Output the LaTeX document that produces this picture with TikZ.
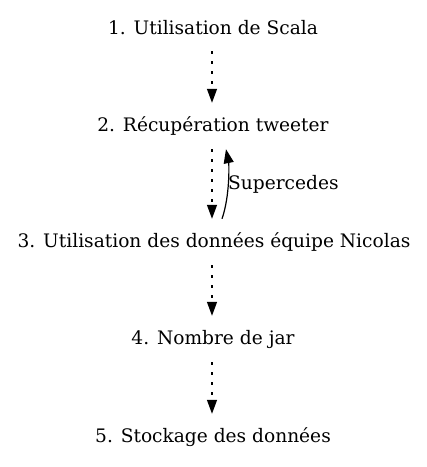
\documentclass[tikz,border=0pt]{standalone}
\usepackage{fontspec}
\setmainfont{DejaVu Serif}
\usetikzlibrary{arrows.meta}
\begin{document}
\begin{tikzpicture}[x=1pt,y=-1pt,
  lbl/.style={inner sep=0pt,minimum height=46pt,font=\fontsize{18.6}{22}\selectfont},
  dep/.style={line width=1.3pt,dash pattern=on 3pt off 7pt,-{Triangle[length=14pt,width=10pt]}},
  sup/.style={line width=1.2pt,-{Triangle[length=14pt,width=10pt]}}]
\useasboundingbox (0,0) rectangle (427,467);
\node[lbl] (n1) at (213,28) {1. Utilisation de Scala};
\node[lbl] (n2) at (213,126) {2. Récupération tweeter};
\node[lbl] (n3) at (214,242) {3. Utilisation des données équipe Nicolas};
\node[lbl] (n4) at (213,339) {4. Nombre de jar};
\node[lbl] (n5) at (213,437) {5. Stockage des données};
\draw[dep] (n1.south -| 212,0) -- (n2.north -| 212,0);
\draw[dep] (n2.south -| 212,0) -- (n3.north -| 212,0);
\draw[dep] (n3.south -| 212,0) -- (n4.north -| 212,0);
\draw[dep] (n4.south -| 212,0) -- (n5.north -| 212,0);
\draw[sup] (n3.north -| 222,0) .. controls +(8,-23) and +(3,15) .. (n2.south -| 226,0);
\node[font=\fontsize{18.6}{22}\selectfont,inner sep=0pt,anchor=west] (s) at (228,184) {Supercedes};
\end{tikzpicture}
\end{document}
